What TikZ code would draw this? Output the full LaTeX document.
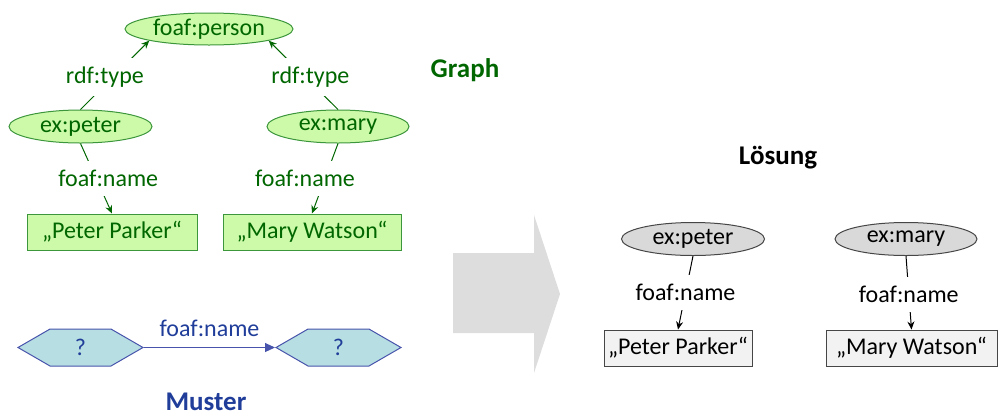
\documentclass[tikz,border=0pt]{standalone}
\usepackage{fontspec}
\setmainfont{Carlito}
\usetikzlibrary{shapes.geometric,shapes.symbols,arrows.meta}

\definecolor{gfill}{RGB}{204,250,168}
\definecolor{gdraw}{RGB}{60,150,60}
\definecolor{gtext}{RGB}{0,102,0}
\definecolor{mfill}{RGB}{183,222,226}
\definecolor{mdraw}{RGB}{72,84,172}
\definecolor{mtext}{RGB}{31,61,153}
\definecolor{lfill}{RGB}{217,217,217}
\definecolor{bfill}{RGB}{242,242,242}
\definecolor{ldraw}{RGB}{70,70,70}
\definecolor{arrowgrey}{RGB}{221,221,221}

\begin{document}
\begin{tikzpicture}[x=1pt,y=-1pt,
  txt/.style={font=\fontsize{24}{28}\selectfont},
  title/.style={font=\fontsize{27}{32}\selectfont\bfseries, inner sep=0},
  gres/.style={txt, ellipse, draw=gdraw, fill=gfill, text=gtext, line width=1pt, inner sep=0},
  glit/.style={txt, rectangle, draw=gdraw, fill=gfill, text=gtext, line width=1pt, inner sep=0, minimum height=36},
  gedge/.style={draw=gtext, line width=1pt},
  glabel/.style={txt, fill=white, text=gtext, inner xsep=3pt, inner ysep=9pt},
  hexa/.style={txt, signal, signal to=east and west, signal pointer angle=60, draw=mdraw, fill=mfill, text=mtext, line width=1pt, inner sep=0, minimum width=125, minimum height=37},
  lres/.style={txt, ellipse, draw=ldraw, fill=lfill, text=black, line width=1pt, inner sep=0},
  llit/.style={txt, rectangle, draw=ldraw, fill=bfill, text=black, line width=1pt, inner sep=0, minimum height=36},
  ledge/.style={draw=black, line width=1pt},
  llabel/.style={txt, fill=white, text=black, inner xsep=3pt, inner ysep=9pt},
  tip/.style={-{Stealth[length=8pt,width=7pt]}}
]
\useasboundingbox (0,0) rectangle (998,416);

% --- data graph ---
\node[gres, minimum width=168, minimum height=32] (person) at (209,29) {foaf:person};
\node[gres, minimum width=143, minimum height=33] (peter) at (80.5,126.5) {ex:peter};
\node[gres, minimum width=142, minimum height=33] (mary) at (338,126.5) {ex:mary};
\node[glit, minimum width=170] (pp) at (112,232) {„Peter Parker“};
\node[glit, minimum width=178] (mw) at (312,232) {„Mary Watson“};

\draw[gedge, tip] (peter.north) -- (person.south west)
  node[glabel, pos=0.5, xshift=-10pt, yshift=-2pt] (t1) {rdf:type};
\draw[gedge, tip] (mary.north) -- (person.south east)
  node[glabel, pos=0.5, xshift=7pt, yshift=-2pt] (t2) {rdf:type};
\draw[gedge, tip] (peter.south) -- (pp.north)
  node[glabel, pos=0.5, xshift=12pt] (n1) {foaf:name};
\draw[gedge, tip] (mary.south) -- (mw.north)
  node[glabel, pos=0.5, xshift=-20pt] (n2) {foaf:name};

\node[title, text=gtext] (graph) at (465,70) {Graph};

% --- query pattern ---
\node[hexa] (qa) at (80.5,347.5) {?};
\node[hexa] (qb) at (338.5,347.5) {?};
\draw[draw=mdraw, line width=1pt, -{Triangle[length=10pt,width=9pt]}] (qa.east) -- (qb.west)
  node[txt, text=mtext, midway, above=10pt, inner sep=0] (qn) {foaf:name};
\node[title, text=mtext] (muster) at (206,402) {Muster};

% --- big grey arrow ---
\fill[arrowgrey] (453,253) -- (534,253) -- (534,215) -- (560,294) -- (534,373) -- (534,333) -- (453,333) -- cycle;

% --- result ---
\node[title, text=black] (loesung) at (778,158) {Lösung};
\node[lres, minimum width=143, minimum height=33] (pe2) at (693,239) {ex:peter};
\node[lres, minimum width=142, minimum height=33] (me2) at (906,239) {ex:mary};
\node[llit, minimum width=148] (pb2) at (678,348) {„Peter Parker“};
\node[llit, minimum width=171] (mb2) at (911.5,348) {„Mary Watson“};

\draw[ledge, tip] (pe2.south) -- (pb2.north)
  node[llabel, pos=0.5] (n3) {foaf:name};
\draw[ledge, tip] (me2.south) -- (mb2.north)
  node[llabel, pos=0.5, yshift=-2pt] (n4) {foaf:name};
\end{tikzpicture}
\end{document}
